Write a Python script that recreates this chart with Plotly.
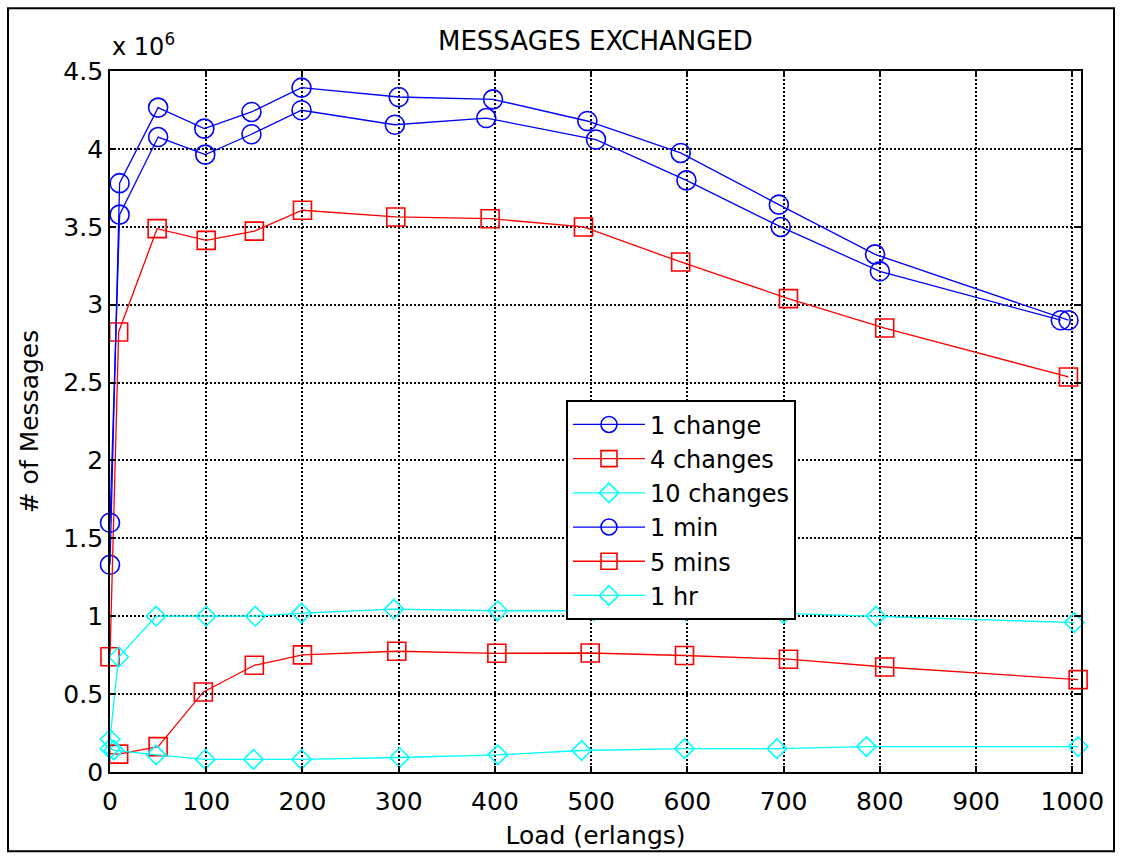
import plotly.graph_objects as go

# Load (erlangs) and messages exchanged (in units of 10^6) per update policy
load_1change = [0, 10, 50, 98, 147, 199, 300, 398, 496, 593, 695, 795, 996]
msg_1change = [1.33, 3.78, 4.265, 4.13, 4.237, 4.393, 4.333, 4.318, 4.179, 3.974, 3.642, 3.323, 2.90]

load_4changes = [0, 9, 49, 100, 150, 200, 297, 395, 492, 593, 705, 805, 996]
msg_4changes = [0.74, 2.825, 3.488, 3.413, 3.472, 3.606, 3.563, 3.552, 3.499, 3.274, 3.039, 2.850, 2.536]

load_10changes = [0, 9, 48, 100, 151, 199, 295, 403, 503, 598, 700, 796, 1002]
msg_10changes = [0.21, 0.738, 1.0, 1.0, 1.0, 1.02, 1.045, 1.035, 1.035, 1.035, 1.018, 1.0, 0.959]

load_1min = [0, 10, 50, 99, 147, 199, 296, 391, 505, 599, 697, 800, 988]
msg_1min = [1.60, 3.578, 4.076, 3.963, 4.094, 4.248, 4.155, 4.198, 4.06, 3.798, 3.499, 3.214, 2.90]

load_5mins = [-5, 9, 50, 97, 150, 200, 298, 402, 499, 597, 705, 805, 1006]
msg_5mins = [0.12, 0.115, 0.163, 0.514, 0.685, 0.752, 0.775, 0.762, 0.764, 0.748, 0.724, 0.674, 0.593]

load_1hr = [0, 4, 48, 99, 149, 199, 301, 403, 490, 597, 693, 786, 1006]
msg_1hr = [0.15, 0.14, 0.11, 0.081, 0.081, 0.081, 0.093, 0.11, 0.138, 0.15, 0.15, 0.163, 0.163]

x_ticks = [0, 100, 200, 300, 400, 500, 600, 700, 800, 900, 1000]
y_ticks = [0, 0.5, 1, 1.5, 2, 2.5, 3, 3.5, 4, 4.5]

BLUE = "rgb(0,0,255)"
RED = "rgb(255,0,0)"
CYAN = "rgb(0,255,255)"
FONT = "DejaVu Sans"

series = [
    ("1 change", load_1change, msg_1change, BLUE, "circle-open", 19),
    ("4 changes", load_4changes, msg_4changes, RED, "square-open", 18),
    ("10 changes", load_10changes, msg_10changes, CYAN, "diamond-open", 15),
    ("1 min", load_1min, msg_1min, BLUE, "circle-open", 19),
    ("5 mins", load_5mins, msg_5mins, RED, "square-open", 18),
    ("1 hr", load_1hr, msg_1hr, CYAN, "diamond-open", 15),
]

fig = go.Figure()
for name, xs, ys, color, symbol, size in series:
    fig.add_trace(go.Scatter(
        x=xs, y=ys, name=name, mode="lines+markers",
        line=dict(color=color, width=1.3),
        marker=dict(symbol=symbol, size=size, color=color,
                    line=dict(color=color, width=1.6)),
        cliponaxis=False,
    ))

axis_common = dict(
    showline=True, linecolor="black", linewidth=1.8, mirror="ticks",
    ticks="inside", ticklen=6, tickcolor="black", tickwidth=1.5,
    showgrid=True, gridcolor="black", gridwidth=1.6, griddash="2px,2px",
    zeroline=False,
    tickfont=dict(family=FONT, size=25, color="black"),
)

fig.update_layout(
    width=1122, height=859,
    margin=dict(l=110, r=41, t=71, b=87),
    paper_bgcolor="white", plot_bgcolor="white",
    font=dict(family=FONT, size=24, color="black"),
    title=dict(text="MESSAGES EXCHANGED", x=0.5307, xanchor="center",
               y=1 - 41 / 859, yanchor="middle", yref="container",
               font=dict(family=FONT, size=26, color="black")),
    xaxis=dict(range=[0, 1009], tickvals=x_ticks, ticklabelstandoff=6,
               **axis_common,
               title=dict(text="Load (erlangs)", standoff=12,
                          font=dict(family=FONT, size=25, color="black"))),
    yaxis=dict(range=[0, 4.5], tickvals=y_ticks, **axis_common,
               title=dict(text="# of Messages", standoff=18,
                          font=dict(family=FONT, size=25, color="black"))),
    legend=dict(x=0.4696, y=0.5302, xanchor="left", yanchor="top",
                bgcolor="white", bordercolor="black", borderwidth=2,
                font=dict(family=FONT, size=24, color="black"),
                itemwidth=72, entrywidth=183, entrywidthmode="pixels",
                tracegroupgap=0),
    showlegend=True,
)

# Axis exponent label
fig.add_annotation(text="x 10<sup>6</sup>", xref="paper", yref="paper",
                   x=0, y=1.012, xanchor="left", yanchor="bottom",
                   showarrow=False, font=dict(family=FONT, size=24, color="black"))

# Outer figure frame
fig.add_shape(type="rect", xref="paper", yref="paper",
              x0=(8 - 110) / 971, x1=(1114 - 110) / 971,
              y0=(771.7 - 851) / 701, y1=(771.7 - 8) / 701,
              line=dict(color="black", width=2), fillcolor="rgba(0,0,0,0)")

fig.write_html("out.html")
